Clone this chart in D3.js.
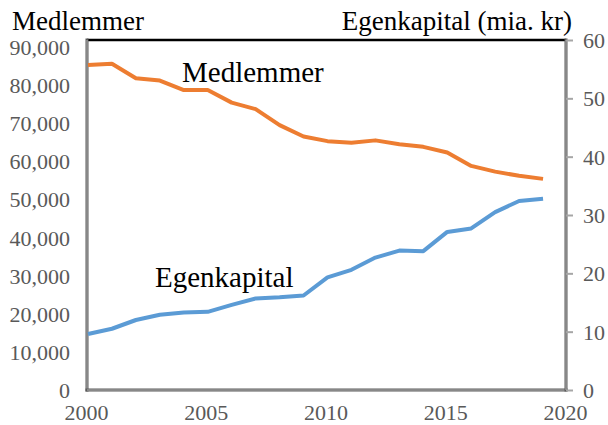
<!DOCTYPE html>
<html>
<head>
<meta charset="utf-8">
<script src="https://cdn.jsdelivr.net/npm/d3@7"></script>
<style>
  html, body { margin: 0; padding: 0; background: #fff; }
  svg { display: block; }
  text { font-family: "Liberation Serif", "Times New Roman", serif; }
</style>
</head>
<body>
<svg id="chart" width="608" height="425"></svg>
<script>
// Membership count and equity (billion DKK), 2000-2019
const years = [2000, 2001, 2002, 2003, 2004, 2005, 2006, 2007, 2008, 2009,
               2010, 2011, 2012, 2013, 2014, 2015, 2016, 2017, 2018, 2019];
const medlemmer = [85300, 85600, 81800, 81200, 78700, 78700, 75400, 73700, 69500, 66500,
                   65300, 64900, 65500, 64500, 63800, 62300, 58800, 57300, 56200, 55400];
const egenkapital = [9.6, 10.5, 12.0, 12.9, 13.3, 13.4, 14.6, 15.7, 15.9, 16.2,
                     19.3, 20.6, 22.7, 23.9, 23.8, 27.1, 27.7, 30.5, 32.4, 32.8];
const xTicks = [2000, 2005, 2010, 2015, 2020];
const leftTicks = [0, 10000, 20000, 30000, 40000, 50000, 60000, 70000, 80000, 90000];
const rightTicks = [0, 10, 20, 30, 40, 50, 60];

const svg = d3.select("#chart");
const plot = { left: 87, right: 566, top: 40, bottom: 390 };
const serif = "Liberation Serif";

const x = d3.scaleLinear().domain([2000, 2020]).range([plot.left + 1, plot.right + 1]);
const yLeft = d3.scaleLinear().domain([0, 90000]).range([plot.bottom, 47]);
const yRight = d3.scaleLinear().domain([0, 60]).range([plot.bottom, plot.top]);

const labelColor = "#595959";

// Frame: dark top edge, grey sides and bottom
svg.append("line").attr("x1", plot.left).attr("x2", plot.right)
  .attr("y1", plot.top).attr("y2", plot.top)
  .attr("stroke", "#000").attr("stroke-width", 2.5);
[[plot.left, plot.top, plot.left, plot.bottom],
 [plot.left, plot.bottom, plot.right, plot.bottom],
 [plot.right, plot.top, plot.right, plot.bottom]].forEach(([x1, y1, x2, y2]) => {
  svg.append("line").attr("x1", x1).attr("y1", y1).attr("x2", x2).attr("y2", y2)
    .attr("stroke", "#5a5a5a").attr("stroke-width", 3).attr("stroke-linecap", "square");
  svg.append("line").attr("x1", x1).attr("y1", y1).attr("x2", x2).attr("y2", y2)
    .attr("stroke", "#b5b5b5").attr("stroke-width", 1);
});

function styleAxisText(g, dy) {
  g.attr("font-family", serif).attr("font-size", 22);
  g.selectAll("text").attr("fill", labelColor).attr("dy", dy);
}

// Left axis (labels only)
const leftAxis = d3.axisLeft(yLeft).tickValues(leftTicks)
  .tickFormat(d3.format(",")).tickSize(0).tickPadding(0);
svg.append("g").attr("transform", `translate(70,0)`).call(leftAxis)
  .call(g => g.select(".domain").remove())
  .call(g => styleAxisText(g, "0.34em"));

// Right axis with outward ticks
const rightAxis = d3.axisRight(yRight).tickValues(rightTicks).tickSize(7).tickPadding(10);
svg.append("g").attr("transform", `translate(${plot.right},0)`).call(rightAxis)
  .call(g => g.select(".domain").remove())
  .call(g => g.selectAll("line").attr("stroke", "#a6a6a6").attr("stroke-width", 2))
  .call(g => styleAxisText(g, "0.34em"));

// Bottom axis (labels only)
const bottomAxis = d3.axisBottom(x).tickValues(xTicks).tickFormat(d3.format("d"))
  .tickSize(0).tickPadding(0);
svg.append("g").attr("transform", `translate(-2,${plot.bottom + 14})`).call(bottomAxis)
  .call(g => g.select(".domain").remove())
  .call(g => styleAxisText(g, "0.71em"));

// Series lines
const lineLeft = d3.line().x((d, i) => x(years[i])).y(d => yLeft(d));
const lineRight = d3.line().x((d, i) => x(years[i])).y(d => yRight(d));

svg.append("path").datum(egenkapital).attr("d", lineRight)
  .attr("fill", "none").attr("stroke", "#5B9BD5").attr("stroke-width", 4)
  .attr("stroke-linejoin", "round");
svg.append("path").datum(medlemmer).attr("d", lineLeft)
  .attr("fill", "none").attr("stroke", "#ED7D31").attr("stroke-width", 4)
  .attr("stroke-linejoin", "round");

function addText(xPos, yPos, size, str, anchor) {
  svg.append("text").attr("x", xPos).attr("y", yPos)
    .attr("text-anchor", anchor || "start").attr("fill", "#000")
    .attr("font-family", serif).attr("font-size", size).text(str);
}

// Axis titles
addText(12, 30, 27, "Medlemmer");
addText(572, 30, 27, "Egenkapital (mia. kr)", "end");

// Series labels
addText(182, 82, 29, "Medlemmer");
addText(155, 287, 29, "Egenkapital");
</script>
</body>
</html>
